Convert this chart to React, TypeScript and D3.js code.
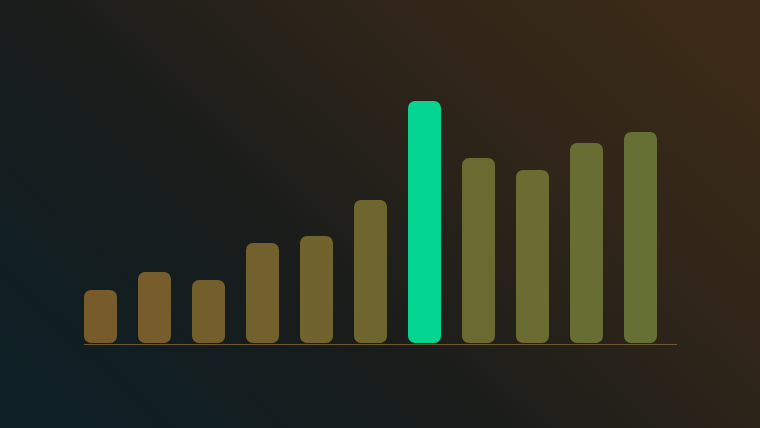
import React from "react";
import * as d3 from "d3";

const categories = ["1", "2", "3", "4", "5", "6", "7", "8", "9", "10", "11"];
const values = [53, 71, 63, 100, 107, 143, 242, 185, 173, 200, 211];
const highlightIndex = 6;

const W = 760;
const H = 428;

export default function App() {
  const x = d3.scaleBand<string>().domain(categories).range([84, 657]).paddingInner(0.389).paddingOuter(0);
  const y = d3.scaleLinear().domain([0, 250]).range([343, 93]);
  const colorScale = d3.scaleLinear<string>().domain([0, categories.length - 1]).range(["#785b2a", "#667034"]).interpolate(d3.interpolateRgb);

  return (
    <svg width={W} height={H} style={{ position: "fixed", left: 0, top: 0, display: "block" }}>
      <defs>
        <linearGradient id="bg" x1="0" y1="0.8" x2="1" y2="0.2">
          <stop offset="0%" stopColor="#0e1f25" />
          <stop offset="35%" stopColor="#181c1b" />
          <stop offset="70%" stopColor="#2f2519" />
          <stop offset="100%" stopColor="#3b2a17" />
        </linearGradient>
      </defs>
      <rect x={0} y={0} width={W} height={H} fill="url(#bg)" />
      {categories.map((c, i) => {
        const bx = x(c)!;
        const by = y(values[i]);
        const bh = y(0) - by;
        return (
          <rect
            key={c}
            x={bx}
            y={by}
            width={x.bandwidth()}
            height={bh}
            rx={7}
            ry={7}
            fill={i === highlightIndex ? "#04d591" : colorScale(i)}
          />
        );
      })}
      <line x1={84} x2={677} y1={344.5} y2={344.5} stroke="#6e5733" strokeWidth={1.2} />
    </svg>
  );
}
